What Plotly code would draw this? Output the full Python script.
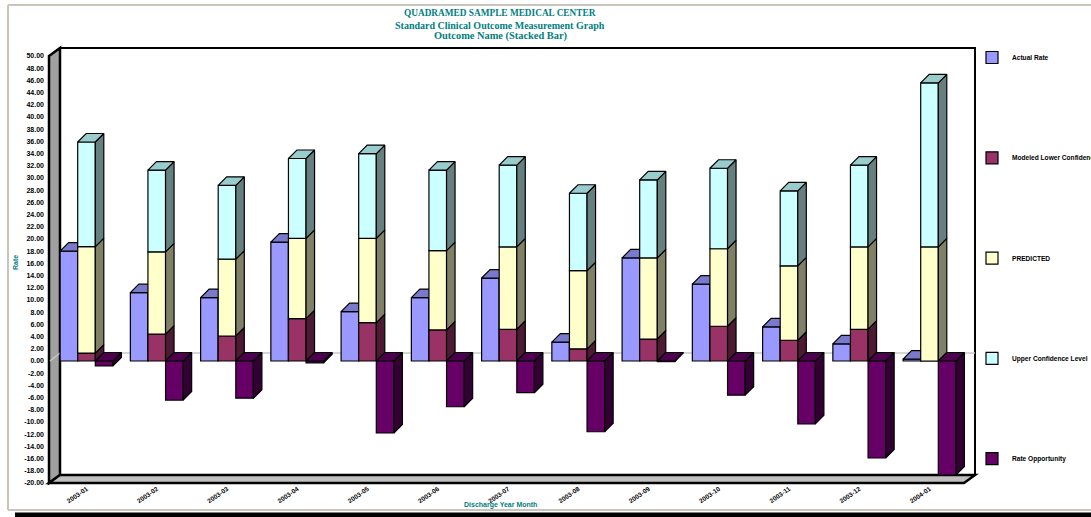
import plotly.graph_objects as go

# ---- data -------------------------------------------------------------
months = ["2003-01", "2003-02", "2003-03", "2003-04", "2003-05", "2003-06", "2003-07",
          "2003-08", "2003-09", "2003-10", "2003-11", "2003-12", "2004-01"]
actual_rate = [18.0, 11.2, 10.4, 19.5, 8.1, 10.4, 13.6, 3.1, 16.9, 12.6, 5.6, 2.8, 0.3]
lower_conf = [1.3, 4.4, 4.1, 6.95, 6.3, 5.1, 5.2, 2.0, 3.6, 5.7, 3.4, 5.2, 0.0]
predicted = [17.45, 13.5, 12.6, 13.15, 13.8, 13.0, 13.5, 12.8, 13.3, 12.7, 12.2, 13.5, 18.7]
upper_conf = [17.15, 13.4, 12.1, 13.1, 13.9, 13.2, 13.4, 12.7, 12.8, 13.2, 12.3, 13.4, 26.9]
rate_opportunity = [-0.8, -6.4, -6.1, -0.3, -11.8, -7.5, -5.2, -11.6, -0.1, -5.6, -10.3, -15.9, -18.7]

y_ticks = list(range(-20, 51, 2))

# ---- geometry (pixels of the 1091x517 canvas) --------------------------
W, H = 1091, 517
PL, PR, PT, PB = 50, 975, 48, 483          # plot area
PX_CAT = 70.25                              # pixels per category
CENTER0 = 86.5                              # pixel x of first category centre
PX_UNIT = 6.1                               # pixels per rate unit
Y_MIN = -20

x_range = [(PL - CENTER0) / PX_CAT, (PR - CENTER0) / PX_CAT]
y_range = [Y_MIN, Y_MIN + (PB - PT) / PX_UNIT]

BW = 17.6 / PX_CAT                          # bar width (category units)
BDX, BDY = 8.5 / PX_CAT, 8.5 / PX_UNIT      # bar depth offset

def px_x(p):
    return (p - PL) / (PR - PL)

def px_y(p):
    return (PB - p) / (PB - PT)

TEAL = "#008080"
FONT = "Liberation Sans"

colors = {
    "actual": ("#9999FF", "#5c5c99", "#7a7acc"),
    "lower": ("#993366", "#4d1a33", "#73264d"),
    "pred": ("#FFFFCC", "#808066", "#bfbf99"),
    "upper": ("#CCFFFF", "#668080", "#99cccc"),
    "opp": ("#660066", "#330033", "#4d004d"),
}

fig = go.Figure()
idx = list(range(len(months)))
edge = dict(color="black", width=1.2)


def side_face(xr, y0, y1, color, axes):
    xs = [xr, xr + BDX, xr + BDX, xr, xr]
    ys = [y0, y0 + BDY, y1 + BDY, y1, y0]
    fig.add_trace(go.Scatter(x=xs, y=ys, fill="toself", fillcolor=color, mode="lines",
                             line=edge, showlegend=False,
                             hoverinfo="skip", xaxis=axes[0], yaxis=axes[1]))


def top_face(xl, xr, y, color, axes):
    xs = [xl, xr, xr + BDX, xl + BDX, xl]
    ys = [y, y, y + BDY, y + BDY, y]
    fig.add_trace(go.Scatter(x=xs, y=ys, fill="toself", fillcolor=color, mode="lines",
                             line=edge, showlegend=False,
                             hoverinfo="skip", xaxis=axes[0], yaxis=axes[1]))


bar_line = dict(color="black", width=1.2)

# Actual rate (first subplot layer)
ax1 = ("x", "y")
xa = [i - BW for i in idx]
fig.add_trace(go.Bar(x=xa, y=actual_rate, width=BW, name="Actual Rate",
                     marker=dict(color=colors["actual"][0], line=bar_line),
                     xaxis="x", yaxis="y", legendgroup="a"))
for xc, v in zip(xa, actual_rate):
    if v > 0:
        side_face(xc + BW / 2, 0, v, colors["actual"][1], ax1)
        top_face(xc - BW / 2, xc + BW / 2, v, colors["actual"][2], ax1)

# Stacked confidence bar (second layer, drawn over the actual-rate depth faces)
ax2 = ("x2", "y2")
xs_ = list(idx)
base_pred = [l for l in lower_conf]
base_upper = [l + p for l, p in zip(lower_conf, predicted)]
fig.add_trace(go.Bar(x=xs_, y=lower_conf, width=BW, name="Modeled Lower Confidence Level",
                     marker=dict(color=colors["lower"][0], line=bar_line),
                     xaxis="x2", yaxis="y2", legendgroup="b"))
fig.add_trace(go.Bar(x=xs_, y=predicted, base=base_pred, width=BW, name="PREDICTED",
                     marker=dict(color=colors["pred"][0], line=bar_line),
                     xaxis="x2", yaxis="y2", legendgroup="c"))
fig.add_trace(go.Bar(x=xs_, y=upper_conf, base=base_upper, width=BW, name="Upper Confidence Level",
                     marker=dict(color=colors["upper"][0], line=bar_line),
                     xaxis="x2", yaxis="y2", legendgroup="d"))
for xc, l, p, u in zip(xs_, lower_conf, predicted, upper_conf):
    xr = xc + BW / 2
    if l > 0:
        side_face(xr, 0, l, colors["lower"][1], ax2)
    side_face(xr, l, l + p, colors["pred"][1], ax2)
    side_face(xr, l + p, l + p + u, colors["upper"][1], ax2)
    top_face(xc - BW / 2, xr, l + p + u, colors["upper"][2], ax2)

# Rate opportunity (third layer)
ax3 = ("x3", "y3")
xo = [i + BW for i in idx]
fig.add_trace(go.Bar(x=xo, y=rate_opportunity, width=BW, name="Rate Opportunity",
                     marker=dict(color=colors["opp"][0], line=bar_line),
                     xaxis="x3", yaxis="y3", legendgroup="e"))
for xc, v in zip(xo, rate_opportunity):
    side_face(xc + BW / 2, min(v, 0), max(v, 0), colors["opp"][1], ax3)
    top_face(xc - BW / 2, xc + BW / 2, max(v, 0), colors["opp"][2], ax3)

# ---- 3D box: back wall, left wall, floor -------------------------------
shapes = []
blk = dict(color="black", width=2)


def poly(points, fill, line):
    path = "M " + " L ".join(f"{px_x(a):.5f},{px_y(b):.5f}" for a, b in points) + " Z"
    return dict(type="path", xref="paper", yref="paper", path=path,
                fillcolor=fill, line=line, layer="below")


shapes.append(poly([(60, 48), (975, 48), (975, 475), (60, 475)], "white", blk))
shapes.append(poly([(49, 56), (60, 48), (60, 475), (49, 483)], "#a0a0a0", dict(color="black", width=2.5)))
shapes.append(poly([(49, 483), (60, 475), (975, 475), (964, 483)], "#c0c0c0", dict(color="black", width=2.5)))
# zero level on the back wall
zero_back = px_y(PB - (0 - Y_MIN) * PX_UNIT - 8)
shapes.append(dict(type="line", xref="paper", yref="paper", x0=px_x(60), x1=px_x(975),
                   y0=zero_back, y1=zero_back, line=dict(color="#c8c8c8", width=1.5), layer="below"))
shapes.append(dict(type="line", xref="paper", yref="paper", x0=px_x(50), x1=px_x(60),
                   y0=px_y(PB - (0 - Y_MIN) * PX_UNIT), y1=zero_back,
                   line=dict(color="#c8c8c8", width=1.5), layer="below"))

# chart border and shadow
border = dict(color="#c9c5bb", width=2)
shapes.append(dict(type="line", xref="paper", yref="paper", x0=px_x(8), x1=px_x(1095),
                   y0=px_y(5), y1=px_y(5), line=border, layer="below"))
shapes.append(dict(type="line", xref="paper", yref="paper", x0=px_x(8), x1=px_x(8),
                   y0=px_y(5), y1=px_y(510), line=border, layer="below"))
shapes.append(dict(type="line", xref="paper", yref="paper", x0=px_x(8), x1=px_x(1095),
                   y0=px_y(510), y1=px_y(510), line=border, layer="below"))
shapes.append(dict(type="rect", xref="paper", yref="paper", x0=px_x(15), x1=px_x(1095),
                   y0=px_y(512.5), y1=px_y(520), fillcolor="black", line=dict(width=0), layer="below"))

# ---- titles --------------------------------------------------------------
annotations = []
title_lines = [("QUADRAMED SAMPLE MEDICAL CENTER", 9.3),
               ("Standard Clinical Outcome Measurement Graph", 10),
               ("Outcome Name (Stacked Bar)", 10.4)]
for k, (t, fs) in enumerate(title_lines):
    annotations.append(dict(text=t, xref="paper", yref="paper", x=px_x(500), y=px_y(13.5 + 11.5 * k),
                            xanchor="center", yanchor="middle", showarrow=False,
                            font=dict(family="Liberation Serif", size=fs, color=TEAL, weight="bold")))
annotations.append(dict(text="Rate", xref="paper", yref="paper", x=px_x(15), y=px_y(263),
                        textangle=-90, showarrow=False, xanchor="center", yanchor="middle",
                        font=dict(family=FONT, size=7, color=TEAL, weight="bold")))
annotations.append(dict(text="Discharge Year Month", xref="paper", yref="paper", x=px_x(500), y=px_y(505),
                        showarrow=False, xanchor="center", yanchor="middle",
                        font=dict(family=FONT, size=7, color=TEAL, weight="bold")))

hidden = dict(visible=False, showgrid=False, zeroline=False)
fig.update_layout(
    width=W, height=H,
    margin=dict(l=PL, r=W - PR, t=PT, b=H - PB, pad=0, autoexpand=False),
    paper_bgcolor="white", plot_bgcolor="rgba(0,0,0,0)",
    barmode="overlay",
    showlegend=True,
    legend=dict(x=px_x(972), xanchor="left", yref="container", y=1 - 43 / H, yanchor="top",
                font=dict(family=FONT, size=6.6, color="black", weight="bold"),
                tracegroupgap=81.3, traceorder="grouped", bgcolor="rgba(0,0,0,0)",
                itemwidth=30, maxheight=H),
    xaxis=dict(range=x_range, tickvals=idx, ticktext=months, tickangle=-35,
               showgrid=False, zeroline=False, showline=False, ticks="",
               tickfont=dict(family=FONT, size=6.5, color="black", weight="bold")),
    yaxis=dict(range=y_range, tickvals=y_ticks, ticktext=[f"{v:.2f}" for v in y_ticks],
               showgrid=False, zeroline=False, showline=False, ticks="",
               ticklabelstandoff=5,
               tickfont=dict(family=FONT, size=7, color="black", weight="bold")),
    xaxis2=dict(range=x_range, overlaying="x", **hidden),
    yaxis2=dict(range=y_range, overlaying="y", **hidden),
    xaxis3=dict(range=x_range, overlaying="x", **hidden),
    yaxis3=dict(range=y_range, overlaying="y", **hidden),
    shapes=shapes,
    annotations=annotations,
)

fig.write_html("out.html")
